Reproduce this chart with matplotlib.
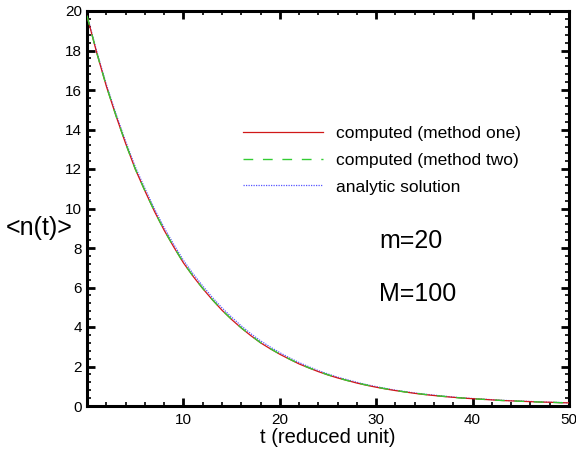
import matplotlib
matplotlib.use("Agg")
import matplotlib.pyplot as plt
from matplotlib.ticker import MultipleLocator, FixedLocator

plt.rcParams["font.family"] = ["Liberation Sans", "DejaVu Sans"]

# values
t = list(range(0, 51))
n_method_one = [19.75, 17.90, 16.20, 14.70, 13.30, 12.00, 10.90, 9.85, 8.90, 8.05,
                7.25, 6.57, 5.95, 5.38, 4.85, 4.38, 3.95, 3.56, 3.20, 2.90,
                2.62, 2.37, 2.13, 1.93, 1.74, 1.57, 1.42, 1.29, 1.16, 1.05,
                0.95, 0.86, 0.78, 0.71, 0.64, 0.58, 0.53, 0.48, 0.44, 0.40,
                0.37, 0.34, 0.31, 0.28, 0.26, 0.24, 0.22, 0.20, 0.19, 0.17, 0.16]
n_method_two = [19.76, 17.91, 16.21, 14.71, 13.31, 12.01, 10.91, 9.86, 8.91, 8.06,
                7.26, 6.58, 5.96, 5.39, 4.86, 4.39, 3.96, 3.57, 3.21, 2.91,
                2.63, 2.38, 2.14, 1.94, 1.75, 1.58, 1.43, 1.29, 1.17, 1.06,
                0.96, 0.87, 0.79, 0.71, 0.65, 0.59, 0.53, 0.49, 0.44, 0.40,
                0.37, 0.34, 0.31, 0.28, 0.26, 0.24, 0.22, 0.20, 0.19, 0.17, 0.16]
n_analytic = [19.80, 17.97, 16.29, 14.80, 13.41, 12.12, 11.02, 9.98, 9.03, 8.18,
              7.38, 6.70, 6.08, 5.50, 4.97, 4.50, 4.06, 3.66, 3.30, 2.99,
              2.70, 2.44, 2.20, 1.99, 1.79, 1.62, 1.46, 1.33, 1.20, 1.08,
              0.98, 0.89, 0.80, 0.73, 0.66, 0.60, 0.55, 0.50, 0.45, 0.41,
              0.38, 0.35, 0.32, 0.29, 0.27, 0.25, 0.23, 0.21, 0.19, 0.18, 0.16]
labels = ["computed (method one)", "computed (method two)", "analytic solution"]
x_ticks = [10, 20, 30, 40, 50]
y_ticks = list(range(0, 21, 2))

fig = plt.figure(figsize=(5.76, 4.5), dpi=100)
ax = fig.add_axes([87 / 576, 1 - 406 / 450, (569 - 87) / 576, (406 - 11) / 450])

ax.plot(t, n_method_one, color="#d01818", lw=0.9, label=labels[0], zorder=3)
ax.plot(t, n_method_two, color="#33cc33", lw=1.0, dashes=(7, 7), label=labels[1], zorder=4)
ax.plot(t, n_analytic, color="#5555ff", lw=0.9, dashes=(1, 1), label=labels[2], zorder=2)

ax.set_xlim(0, 50)
ax.set_ylim(0, 20)
ax.xaxis.set_major_locator(FixedLocator(x_ticks))
ax.xaxis.set_minor_locator(MultipleLocator(2))
ax.yaxis.set_major_locator(FixedLocator(y_ticks))
ax.yaxis.set_minor_locator(MultipleLocator(0.4))
ax.tick_params(which="both", direction="in", top=True, right=True, labelsize=11)
ax.tick_params(axis="x", pad=5)
ax.tick_params(which="major", length=6, width=2)
ax.tick_params(which="minor", length=3, width=1.2)
for s in ax.spines.values():
    s.set_linewidth(2.2)

ax.set_xlabel("t (reduced unit)", fontsize=14.5, labelpad=1)
fig.text(39 / 576, 1 - 228 / 450, "<n(t)>", fontsize=18, ha="center", va="center")

ax.text(30.3, 8.0, "m=20", fontsize=18, va="baseline")
ax.text(30.3, 5.3, "M=100", fontsize=18, va="baseline")

ax.legend(loc="center left", bbox_to_anchor=(243 / 576, 1 - 160 / 450),
          bbox_transform=fig.transFigure, frameon=False, fontsize=12.5,
          handlelength=4.6, handletextpad=0.75, labelspacing=0.68,
          borderpad=0, borderaxespad=0)

fig.savefig("out.png", dpi=100)
